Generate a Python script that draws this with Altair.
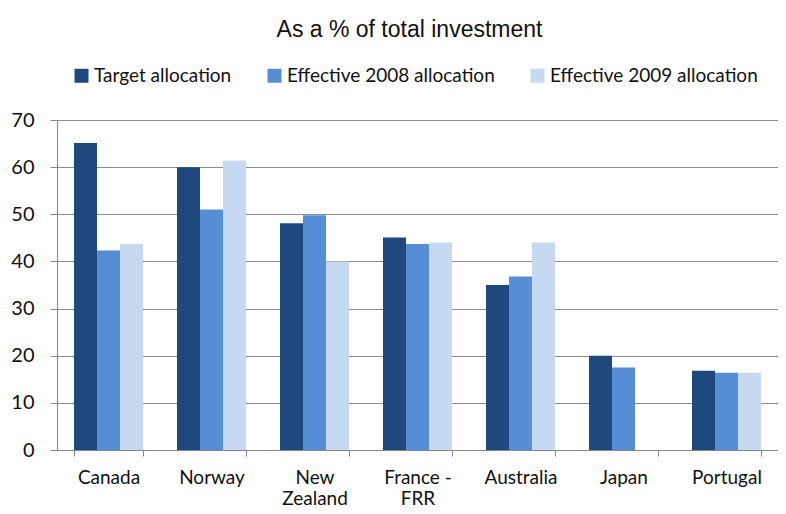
import altair as alt
import pandas as pd

countries = ["Canada", "Norway", "New Zealand", "France - FRR", "Australia", "Japan", "Portugal"]
series = ["Target allocation", "Effective 2008 allocation", "Effective 2009 allocation"]
target = [65.1, 60.0, 48.1, 45.1, 35.0, 20.0, 16.8]
eff2008 = [42.3, 51.0, 49.8, 43.7, 36.8, 17.5, 16.4]
eff2009 = [43.7, 61.4, 40.0, 44.0, 44.0, None, 16.4]
colors = ["#1F497D", "#558ED5", "#C6D9F1"]

rows = []
for s, vals in zip(series, [target, eff2008, eff2009]):
    for c, v in zip(countries, vals):
        if v is not None:
            rows.append({"country": c, "series": s, "value": v})
df = pd.DataFrame(rows)

label_expr = ("datum.value == 'New Zealand' ? ['New', 'Zealand'] : "
              "datum.value == 'France - FRR' ? ['France -', 'FRR'] : datum.value")

chart = alt.Chart(df).mark_bar().encode(
    x=alt.X("country:N", sort=countries, title=None,
            scale=alt.Scale(paddingInner=0.33, paddingOuter=0.165),
            axis=alt.Axis(labelAngle=0, labelExpr=label_expr, tickBand="extent",
                          tickSize=6, labelPadding=12, labelLineHeight=21,
                          labelFont="Lato", labelFontSize=19, labelColor="#111",
                          domainColor="#868686", tickColor="#868686",
                          labelBaseline="top")),
    xOffset=alt.XOffset("series:N", sort=series),
    y=alt.Y("value:Q", title=None,
            scale=alt.Scale(domain=[0, 70], nice=False),
            axis=alt.Axis(values=[0, 10, 20, 30, 40, 50, 60, 70], tickSize=7,
                          labelPadding=16, labelFont="Lato", labelFontSize=20,
                          labelColor="#111", gridColor="#8C8C8C",
                          domainColor="#868686", tickColor="#868686")),
    color=alt.Color("series:N", sort=series,
                    scale=alt.Scale(domain=series, range=colors),
                    legend=alt.Legend(title=None, orient="none", direction="horizontal",
                                      legendX=15, legendY=-54, symbolType="square",
                                      symbolSize=196, symbolStrokeWidth=0,
                                      labelFont="Lato", labelFontSize=19,
                                      labelColor="#111", labelOffset=3,
                                      labelLimit=400, columnPadding=33)),
).properties(
    width=721, height=330,
    title=alt.TitleParams("As a % of total investment", font="Liberation Sans",
                          fontSize=23, fontWeight="normal", color="#111",
                          anchor="middle", dx=-8),
    autosize=alt.AutoSizeParams(type="none"),
    padding={"left": 49, "top": 112, "right": 0, "bottom": 62},
).configure_view(stroke=None).configure_title(
    offset=24
)

chart.save("out.html", embed_options={"renderer": "svg", "actions": False})
